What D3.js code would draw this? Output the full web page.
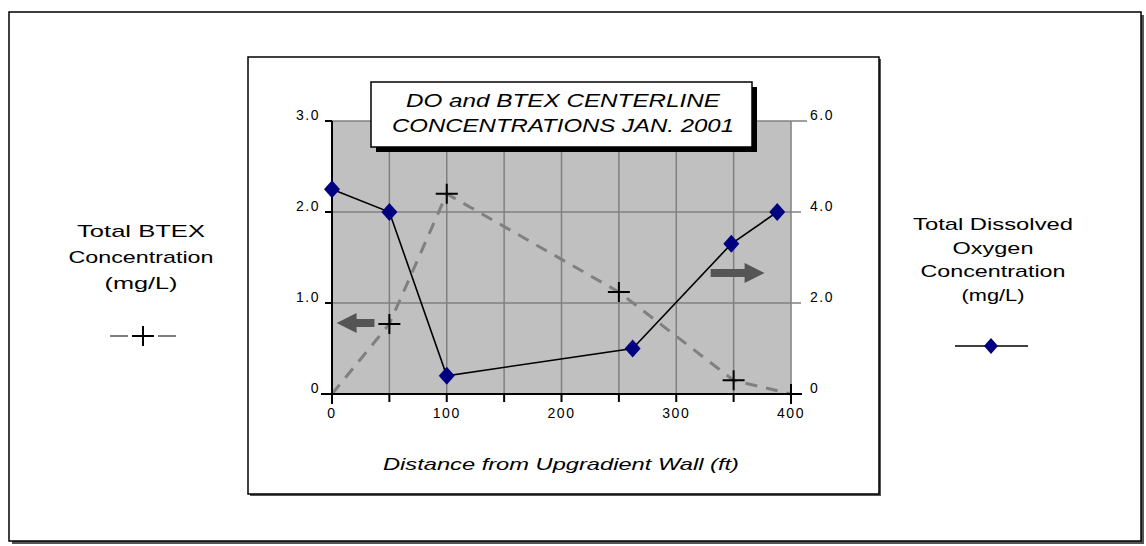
<!DOCTYPE html>
<html>
<head>
<meta charset="utf-8">
<script src="https://cdn.jsdelivr.net/npm/d3@7"></script>
<style>
  body { margin: 0; background: #fff; }
  text { font-family: 'Liberation Sans', Arial, sans-serif; }
</style>
</head>
<body>
<div id="chart"></div>
<script>
// BTEX (left axis, mg/L)
const btexDistance = [0, 50, 100, 250, 350, 400];
const btexConc = [0, 0.77, 2.2, 1.12, 0.15, 0];

// dissolved oxygen (right axis, mg/L)
const doDistance = [0, 50, 100, 262, 348, 388];
const doConc = [4.5, 4.0, 0.4, 1.0, 3.3, 4.0];

const xTicks = [0, 50, 100, 150, 200, 250, 300, 350, 400];
const xTickLabels = ['0', '', '100', '', '200', '', '300', '', '400'];
const leftTicks = [0, 1, 2, 3];
const leftTickLabels = ['0', '1.0', '2.0', '3.0'];
const rightTicks = [0, 2, 4, 6];
const rightTickLabels = ['0', '2.0', '4.0', '6.0'];

const titleLines = ['DO and BTEX CENTERLINE', 'CONCENTRATIONS  JAN. 2001'];
const xLabel = 'Distance from Upgradient Wall (ft)';
const leftLegend = ['Total BTEX', 'Concentration', '(mg/L)'];
const rightLegend = ['Total Dissolved', 'Oxygen', 'Concentration', '(mg/L)'];

// arrows pointing at the axis each series belongs to: [x0, x1, y, axis]
const axisArrows = [
  [4, 37, 0.78, 'left'],
  [330, 377, 2.66, 'right'],
];

const width = 1146;
const height = 546;

const xScale = d3.scaleLinear().domain([0, 400]).range([332, 791]);
const yLeft = d3.scaleLinear().domain([0, 3]).range([394, 121]);
const yRight = d3.scaleLinear().domain([0, 6]).range([394, 121]);

const svg = d3.select('#chart')
  .append('svg')
  .attr('width', width)
  .attr('height', height);

// outer frame + chart frame, both with a small drop shadow
const framedBox = (x0, y0, x1, y1, shadow) => {
  svg.append('rect')
    .attr('x', x0 + shadow).attr('y', y0 + shadow)
    .attr('width', x1 - x0).attr('height', y1 - y0)
    .attr('fill', '#555');
  svg.append('rect')
    .attr('x', x0).attr('y', y0)
    .attr('width', x1 - x0).attr('height', y1 - y0)
    .attr('fill', '#fff')
    .attr('stroke', '#000')
    .attr('stroke-width', 1.5);
};
framedBox(9, 12, 1141, 541, 3);
framedBox(248, 57, 879, 494, 2);

// plot background
svg.append('rect')
  .attr('x', xScale(0))
  .attr('y', yLeft(3))
  .attr('width', xScale(400) - xScale(0))
  .attr('height', yLeft(0) - yLeft(3))
  .attr('fill', '#c0c0c0');

// vertical grid
svg.append('g')
  .selectAll('line')
  .data(xTicks.filter((d) => d > 0))
  .join('line')
  .attr('x1', (d) => xScale(d)).attr('x2', (d) => xScale(d))
  .attr('y1', yLeft(3)).attr('y2', yLeft(0))
  .attr('stroke', '#808080')
  .attr('stroke-width', 1.5);

// horizontal grid, running out past the right edge as the right-axis ticks
svg.append('g')
  .selectAll('line')
  .data(rightTicks)
  .join('line')
  .attr('x1', xScale(0))
  .attr('x2', (d) => xScale(400) + (d === 6 ? 16 : 10))
  .attr('y1', (d) => yRight(d)).attr('y2', (d) => yRight(d))
  .attr('stroke', '#808080')
  .attr('stroke-width', 1.5);

// left axis
const leftAxis = svg.append('g');
leftAxis.append('line')
  .attr('x1', xScale(0)).attr('x2', xScale(0))
  .attr('y1', yLeft(3)).attr('y2', yLeft(0) + 7)
  .attr('stroke', '#000').attr('stroke-width', 2);
leftAxis.selectAll('.tk')
  .data(leftTicks)
  .join('line')
  .attr('x1', xScale(0) - 7).attr('x2', xScale(0))
  .attr('y1', (d) => yLeft(d)).attr('y2', (d) => yLeft(d))
  .attr('stroke', '#000').attr('stroke-width', 2);
leftAxis.selectAll('text')
  .data(leftTicks)
  .join('text')
  .attr('x', xScale(0) - 12)
  .attr('y', (d) => yLeft(d) - 1)
  .attr('text-anchor', 'end')
  .attr('font-size', 14)
  .attr('letter-spacing', 1.5)
  .text((d, i) => leftTickLabels[i]);

// right axis labels
svg.append('g')
  .selectAll('text')
  .data(rightTicks)
  .join('text')
  .attr('x', xScale(400) + 19)
  .attr('y', (d) => yRight(d) - 1)
  .attr('font-size', 14)
  .attr('letter-spacing', 1.5)
  .text((d, i) => rightTickLabels[i]);

// bottom axis
const bottomAxis = svg.append('g');
bottomAxis.append('line')
  .attr('x1', xScale(0) - 7).attr('x2', xScale(400) + 2)
  .attr('y1', yLeft(0)).attr('y2', yLeft(0))
  .attr('stroke', '#000').attr('stroke-width', 2);
bottomAxis.selectAll('.tk')
  .data(xTicks)
  .join('line')
  .attr('x1', (d) => xScale(d)).attr('x2', (d) => xScale(d))
  .attr('y1', yLeft(0)).attr('y2', yLeft(0) + 8)
  .attr('stroke', '#000').attr('stroke-width', 2);
bottomAxis.selectAll('text')
  .data(xTicks)
  .join('text')
  .attr('x', (d) => xScale(d))
  .attr('y', yLeft(0) + 24)
  .attr('text-anchor', 'middle')
  .attr('font-size', 14)
  .attr('letter-spacing', 1.5)
  .text((d, i) => xTickLabels[i]);

// BTEX: dashed grey line with + markers
const btexData = btexDistance.map((d, i) => [d, btexConc[i]]);
svg.append('path')
  .datum(btexData)
  .attr('fill', 'none')
  .attr('stroke', '#808080')
  .attr('stroke-width', 3)
  .attr('stroke-dasharray', '12,9')
  .attr('d', d3.line().x((d) => xScale(d[0])).y((d) => yLeft(d[1])));

svg.append('g')
  .selectAll('path')
  .data(btexData)
  .join('path')
  .attr('transform', (d) => `translate(${xScale(d[0])},${yLeft(d[1])})`)
  .attr('d', 'M-11,0H11M0,-10V10')
  .attr('stroke', '#000')
  .attr('stroke-width', 2);

// DO: black line with navy diamonds
const doData = doDistance.map((d, i) => [d, doConc[i]]);
svg.append('path')
  .datum(doData)
  .attr('fill', 'none')
  .attr('stroke', '#000')
  .attr('stroke-width', 1.6)
  .attr('d', d3.line().x((d) => xScale(d[0])).y((d) => yRight(d[1])));

svg.append('g')
  .selectAll('path')
  .data(doData)
  .join('path')
  .attr('transform', (d) => `translate(${xScale(d[0])},${yRight(d[1])})`)
  .attr('d', 'M0,-9L8,0L0,9L-8,0Z')
  .attr('fill', '#000080');

// arrows
const arrowPath = (x0, x1, y, dir) => {
  const tip = dir === 'left' ? x0 : x1;
  const tail = dir === 'left' ? x1 : x0;
  const s = dir === 'left' ? 1 : -1;
  const neck = tip + s * 20;
  return `M${tip},${y}L${neck},${y - 10}L${neck},${y - 4}L${tail},${y - 4}`
    + `L${tail},${y + 4}L${neck},${y + 4}L${neck},${y + 10}Z`;
};
svg.append('g')
  .selectAll('path')
  .data(axisArrows)
  .join('path')
  .attr('d', (d) => {
    const y = d[3] === 'left' ? yLeft(d[2]) : yRight(d[2]);
    return arrowPath(xScale(d[0]), xScale(d[1]), y, d[3]);
  })
  .attr('fill', '#555');

// title box
svg.append('rect')
  .attr('x', 376).attr('y', 87).attr('width', 381).attr('height', 65)
  .attr('fill', '#000');
svg.append('rect')
  .attr('x', 371).attr('y', 82).attr('width', 381).attr('height', 65)
  .attr('fill', '#fff')
  .attr('stroke', '#000')
  .attr('stroke-width', 1.5);
svg.append('g')
  .selectAll('text')
  .data(titleLines)
  .join('text')
  .attr('x', 563)
  .attr('y', (d, i) => 107 + i * 25)
  .attr('text-anchor', 'middle')
  .attr('font-size', 19)
  .attr('font-style', 'italic')
  .attr('textLength', (d, i) => (i === 0 ? 314 : 342))
  .attr('lengthAdjust', 'spacingAndGlyphs')
  .text((d) => d);

// x axis title
svg.append('text')
  .attr('x', 561)
  .attr('y', 470)
  .attr('text-anchor', 'middle')
  .attr('font-size', 17)
  .attr('font-style', 'italic')
  .attr('textLength', 356)
  .attr('lengthAdjust', 'spacingAndGlyphs')
  .text(xLabel);

// side legends
const leftWidths = [128, 145, 73];
svg.append('g')
  .selectAll('text')
  .data(leftLegend)
  .join('text')
  .attr('x', 141)
  .attr('y', (d, i) => 237 + i * 26)
  .attr('text-anchor', 'middle')
  .attr('font-size', 17)
  .attr('textLength', (d, i) => leftWidths[i])
  .attr('lengthAdjust', 'spacingAndGlyphs')
  .text((d) => d);

const rightWidths = [160, 81, 145, 63];
svg.append('g')
  .selectAll('text')
  .data(rightLegend)
  .join('text')
  .attr('x', 993)
  .attr('y', (d, i) => 230 + i * 23.5)
  .attr('text-anchor', 'middle')
  .attr('font-size', 17)
  .attr('textLength', (d, i) => rightWidths[i])
  .attr('lengthAdjust', 'spacingAndGlyphs')
  .text((d) => d);

// legend keys
const btexKey = svg.append('g').attr('transform', 'translate(143,336)');
btexKey.append('path')
  .attr('d', 'M-33,0H-15M15,0H33')
  .attr('stroke', '#555').attr('stroke-width', 1.5);
btexKey.append('path')
  .attr('d', 'M-11,0H11M0,-10V10')
  .attr('stroke', '#000').attr('stroke-width', 2);

const doKey = svg.append('g').attr('transform', 'translate(991,346)');
doKey.append('line')
  .attr('x1', -36).attr('x2', 37)
  .attr('stroke', '#000').attr('stroke-width', 1.5);
doKey.append('path')
  .attr('d', 'M0,-8L7,0L0,8L-7,0Z')
  .attr('fill', '#000080');
</script>
</body>
</html>
